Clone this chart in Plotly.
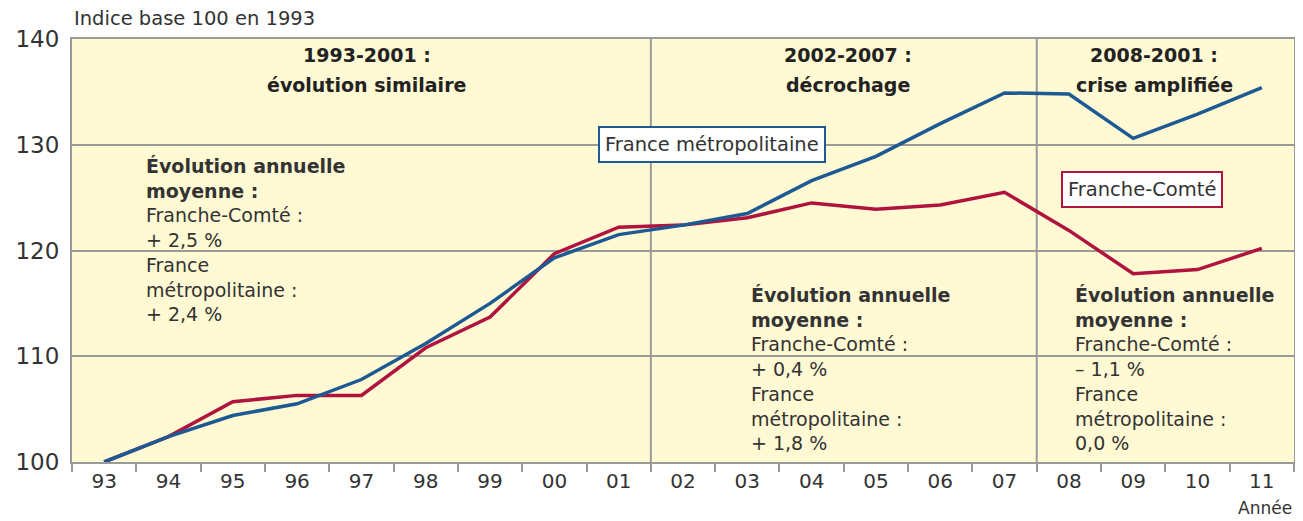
import plotly.graph_objects as go

# Data
annees = ["93", "94", "95", "96", "97", "98", "99", "00", "01", "02",
          "03", "04", "05", "06", "07", "08", "09", "10", "11"]
france_metro = [100, 102.4, 104.4, 105.5, 107.8, 111.2, 115.0, 119.3, 121.5, 122.4,
                123.5, 126.6, 128.9, 132.0, 134.9, 134.8, 130.6, 132.9, 135.4]
franche_comte = [100, 102.4, 105.7, 106.3, 106.3, 110.8, 113.7, 119.7, 122.2, 122.4,
                 123.1, 124.5, 123.9, 124.3, 125.5, 121.9, 117.8, 118.2, 120.2]
y_ticks = [100, 110, 120, 130, 140]

periodes = ["1993-2001 :", "2002-2007 :", "2008-2001 :"]
sous_titres = ["évolution similaire", "décrochage", "crise amplifiée"]
evol_fc = ["+ 2,5 %", "+ 0,4 %", "– 1,1 %"]
evol_fm = ["+ 2,4 %", "+ 1,8 %", "0,0 %"]

BLUE = "#1d5a94"
RED = "#b1133f"
GRID = "#9a9a9a"
TEXT = "#333333"
FONT = "'DejaVu Sans', sans-serif"

fig = go.Figure()

fig.add_trace(go.Scatter(x=annees, y=franche_comte, mode="lines", name="Franche-Comté",
                         line=dict(color=RED, width=3.5)))
fig.add_trace(go.Scatter(x=annees, y=france_metro, mode="lines", name="France métropolitaine",
                         line=dict(color=BLUE, width=3.5)))

# period separators (between 01/02 and 07/08)
for xb in [8.5, 14.5]:
    fig.add_shape(type="line", xref="x", yref="y", x0=xb, x1=xb, y0=100, y1=140,
                  line=dict(color=GRID, width=2), layer="below")

annots = []
# period titles
title_x = [4.08, 11.57, 16.33]
for xc, p, s in zip(title_x, periodes, sous_titres):
    annots.append(dict(x=xc, y=138.5, xref="x", yref="y", text="<b>" + p + "</b>",
                       showarrow=False, xanchor="center", yanchor="middle",
                       font=dict(size=19, color="#222222", family=FONT)))
    annots.append(dict(x=xc, y=135.65, xref="x", yref="y", text="<b>" + s + "</b>",
                       showarrow=False, xanchor="center", yanchor="middle",
                       font=dict(size=19, color="#222222", family=FONT)))

# annual averages blocks
block_pos = [(0.62, 121.04), (10.02, 108.84), (15.07, 108.84)]
for (xl, yc), fc, fm in zip(block_pos, evol_fc, evol_fm):
    txt = ("<b>Évolution annuelle<br>moyenne :</b><br>Franche-Comté :<br>" + fc +
           "<br>France<br>métropolitaine :<br>" + fm)
    annots.append(dict(x=xl, y=yc, xref="x", yref="y", text=txt, showarrow=False,
                       xanchor="left", yanchor="middle", align="left",
                       font=dict(size=19, color=TEXT, family=FONT)))

# series labels
annots.append(dict(x=9.445, y=130.07, xref="x", yref="y", text="France métropolitaine",
                   showarrow=False, bgcolor="white", bordercolor=BLUE, borderwidth=2,
                   borderpad=5, font=dict(size=19.5, color=TEXT, family=FONT)))
annots.append(dict(x=16.14, y=125.77, xref="x", yref="y", text="Franche-Comté",
                   showarrow=False, bgcolor="white", bordercolor=RED, borderwidth=2,
                   borderpad=5, font=dict(size=19.5, color=TEXT, family=FONT)))

# axis captions
annots.append(dict(x=0, y=1.0, xref="paper", yref="paper", text="Indice base 100 en 1993",
                   showarrow=False, xanchor="left", yanchor="middle", yshift=21,
                   font=dict(size=19.5, color=TEXT, family=FONT)))
annots.append(dict(x=1.0, y=0, xref="paper", yref="paper", text="Année",
                   showarrow=False, xanchor="right", yanchor="middle", yshift=-46,
                   font=dict(size=17, color=TEXT, family=FONT)))

# the page body has an 8px margin, so the figure is made 8px smaller on each side
fig.update_layout(
    width=1295, height=513,
    margin=dict(l=60, r=7, t=31, b=59),
    paper_bgcolor="white",
    plot_bgcolor="#fff9d4",
    showlegend=False,
    annotations=annots,
    font=dict(family=FONT, color=TEXT),
)

fig.update_xaxes(type="category", range=[-0.5, 18.5], tickson="boundaries",
                 ticks="outside", ticklen=8, tickwidth=2, tickcolor=GRID,
                 showgrid=False, showline=True, linecolor=GRID, linewidth=2, mirror=True,
                 tickfont=dict(size=20, color=TEXT, family=FONT), fixedrange=True)
fig.update_yaxes(range=[100, 140], tickvals=y_ticks, showgrid=True, gridcolor=GRID, gridwidth=2,
                 showline=True, linecolor=GRID, linewidth=2, mirror=True, zeroline=False,
                 ticks="", ticklabelstandoff=6,
                 tickfont=dict(size=23, color=TEXT, family=FONT), fixedrange=True)

fig.write_html("out.html")
